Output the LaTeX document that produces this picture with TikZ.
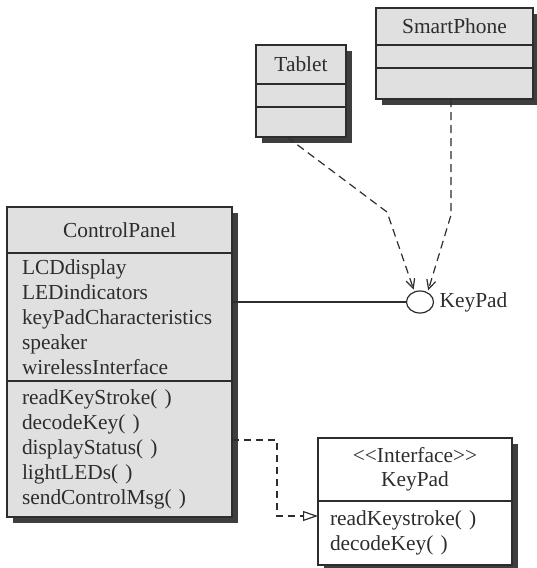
\documentclass[tikz,border=0pt]{standalone}
\usepackage{fontspec}
\setmainfont{Liberation Serif}
\usepackage{xcolor}
\usepackage{tikz}
\usetikzlibrary{positioning,arrows.meta,shapes,shadows}

\definecolor{boxgray}{RGB}{224,224,224}
\definecolor{shadegray}{RGB}{62,62,62}
\definecolor{inkgray}{RGB}{45,45,45}

\begin{document}
\begin{tikzpicture}[
      x=1pt, y=-1pt, color=inkgray,
      font=\fontsize{21.4}{25}\selectfont,
      part/.style={draw, line width=1.2pt, fill=boxgray, outer sep=0pt,
                   inner sep=0pt, drop shadow={shadow xshift=6pt,
                   shadow yshift=-6pt, fill=shadegray, opacity=1}},
      plain/.style={part, fill=white},
      members/.style={align=left, text width=#1},
      dep/.style={line width=1.2pt, dash pattern=on 8pt off 5pt,
                  shorten >=2pt, -{Straight Barb[length=9pt,width=9pt]}},
      real/.style={line width=1.2pt, dash pattern=on 7pt off 5pt,
                   -{Triangle[open,length=15pt,width=10pt]}},
      assoc/.style={line width=1.2pt},
    ]
    \useasboundingbox (0,0) rectangle (536,568);
    % implementing classes
    \node[part, anchor=north west, minimum width=157pt, minimum height=37pt]
      (sphead) at (376,8) {SmartPhone};
    \node[part, below=0pt of sphead, minimum width=157pt, minimum height=23pt] (spattr) {};
    \node[part, below=0pt of spattr, minimum width=157pt, minimum height=31pt] (spops) {};
    \node[part, anchor=north west, minimum width=90pt, minimum height=39pt]
      (tbhead) at (256,45) {Tablet};
    \node[part, below=0pt of tbhead, minimum width=90pt, minimum height=23pt] (tbattr) {};
    \node[part, below=0pt of tbattr, minimum width=90pt, minimum height=30pt] (tbops) {};
    % control panel
    \node[part, anchor=north west, minimum width=225pt, minimum height=46pt]
      (cphead) at (7,207) {ControlPanel};
    \node[part, below=0pt of cphead, members=195pt, inner xsep=15pt,
          minimum height=128pt] (cpattr)
      {LCDdisplay\\LEDindicators\\keyPadCharacteristics\\speaker\\wirelessInterface};
    \node[part, below=0pt of cpattr, members=195pt, inner xsep=15pt,
          minimum height=136pt] (cpops)
      {readKeyStroke( )\\decodeKey( )\\displayStatus( )\\lightLEDs( )\\sendControlMsg( )};
    % interface
    \node[plain, anchor=north west, minimum width=194pt, minimum height=63pt,
          align=center] (kphead) at (318,438)
      {<\kern0pt<Interface>\kern0pt>\\[-1pt]KeyPad};
    \node[plain, below=0pt of kphead, members=170pt, inner xsep=12pt,
          minimum height=64pt] (kpops) {readKeystroke( )\\decodeKey( )};
    \node[ellipse, draw, line width=1.2pt, inner sep=0pt, minimum width=27pt,
          minimum height=22pt] (kpball) at (420,302) {};
    \node[right=2pt of kpball] (kpname) {KeyPad};
    \coordinate (tbbend) at (387,212);
    \coordinate (spbend) at (451,215);
    \coordinate (rlbend) at (277,440);
    \coordinate (rlend) at (277,516);
    \draw[assoc] (cpattr.east |- kpball.west) -- (kpball.west);
    \draw[dep] ([xshift=-14pt]tbops.south) -- (tbbend) -- (kpball.118);
    \draw[dep] (spops.south -| spbend) -- (spbend) -- (kpball.52);
    \draw[real] (cpops.east |- rlbend) -- (rlbend) -- (rlend) -- (kpops.west |- rlend);
  \end{tikzpicture}
\end{document}
